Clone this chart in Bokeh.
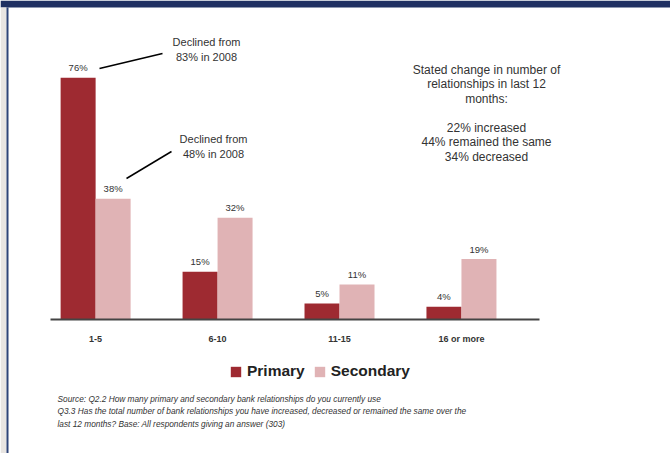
from bokeh.plotting import figure
from bokeh.models import ColumnDataSource, Label, Legend, LegendItem, BoxAnnotation
from bokeh.core.properties import value
from bokeh.embed import file_html
from bokeh.resources import INLINE

# ---- data ----
categories = ["1-5", "6-10", "11-15", "16 or more"]
primary = [76, 15, 5, 4]
secondary = [38, 32, 11, 19]
primary_labels = ["76%", "15%", "5%", "4%"]
secondary_labels = ["38%", "32%", "11%", "19%"]
series_names = ["Primary", "Secondary"]
note_83 = ["Declined from", "83% in 2008"]
note_48 = ["Declined from", "48% in 2008"]
side_text = ["Stated change in number of", "relationships in last 12", "months:", "",
             "22% increased", "44% remained the same", "34% decreased"]
footnote = [
    "Source: Q2.2 How many primary and secondary bank relationships do you currently use",
    "Q3.3 Has the total number of bank relationships you have increased, decreased or remained the same over the",
    "last 12 months? Base: All respondents giving an answer (303)",
]

# ---- style / layout ----
W, H = 670, 453
AX_L, AX_R, BASE = 50, 539, 319          # axis line extent and baseline (px)
CAT_XS, CAT_XE = -0.37, 3.64             # category units spanned by the axis line
PXU = (AX_R - AX_L) / (CAT_XE - CAT_XS)  # px per category unit
PX_PER_PCT = 3.18
XS = CAT_XS - AX_L / PXU
XE = CAT_XE + (W - AX_R) / PXU
YS = -(H - BASE) / PX_PER_PCT
YE = BASE / PX_PER_PCT
BW = 0.287
C_PRI = "#9E2A31"
C_SEC = "#E0B3B5"
TXT = "#333333"
FONT = "Liberation Sans Narrow, Liberation Sans, Arial, sans-serif"

def dx(px):
    return XS + px / PXU

def dy(py):
    return (BASE - py) / PX_PER_PCT

idx = list(range(len(categories)))
src = ColumnDataSource(dict(
    xp=[i - BW / 2 for i in idx], xs=[i + BW / 2 for i in idx], xc=idx,
    zero=[0] * len(idx), cat=categories,
    pri=primary, sec=secondary, pl=primary_labels, sl=secondary_labels))

p = figure(width=W, height=H, output_backend="svg", toolbar_location=None,
           x_range=(XS, XE), y_range=(YS, YE),
           x_axis_location=None, y_axis_location=None,
           min_border=0)
p.grid.visible = False
p.outline_line_color = None
p.background_fill_color = "white"
p.border_fill_color = "white"

r1 = p.vbar(x="xp", top="pri", width=BW, source=src, color=C_PRI, line_color=None)
r2 = p.vbar(x="xs", top="sec", width=BW, source=src, color=C_SEC, line_color=None)

for col_x, col_t, col_l in (("xp", "pri", "pl"), ("xs", "sec", "sl")):
    p.text(x=col_x, y=col_t, text=col_l, source=src, text_align="center",
           text_baseline="middle", y_offset=-10, text_font_size="9.5px",
           text_color=TXT, text_font=value(FONT))

# category axis
p.segment(x0=[CAT_XS], y0=[0], x1=[CAT_XE], y1=[0], line_color="#444444", line_width=2)
p.text(x="xc", y="zero", text="cat", source=src, text_align="center",
       text_baseline="middle", y_offset=19, text_font_size="9px",
       text_font_style="bold", text_color=TXT, text_font=value(FONT))

# annotation lines
p.segment(x0=[dx(99), dx(126)], y0=[dy(68), dy(178)], x1=[dx(162), dx(171)],
          y1=[dy(53), dy(151)], line_color="black", line_width=1.5)

def add_lines(lines, cx, y0, step, size, style="normal", align="center"):
    for k, t in enumerate(lines):
        if not t:
            continue
        p.add_layout(Label(x=dx(cx), y=dy(y0 + k * step), text=t, text_align=align,
                           text_baseline="middle", text_font_size=size,
                           text_font_style=style, text_color=TXT, text_font=FONT))

add_lines(note_83, 206, 41, 15, "11px")
add_lines(note_48, 213, 138, 15, "11px")
add_lines(side_text, 486, 69, 14.5, "12px")
add_lines(footnote, 57, 398, 12.5, "8.3px", style="italic", align="left")

legend = Legend(items=[LegendItem(label=series_names[0], renderers=[r1]),
                       LegendItem(label=series_names[1], renderers=[r2])],
                orientation="horizontal", location=(229, H - 380),
                label_text_font_size="15.5px", label_text_font_style="bold",
                label_text_color="#222222", label_text_font=FONT,
                glyph_width=13, glyph_height=13, label_standoff=5, spacing=8,
                background_fill_alpha=0, border_line_color=None, padding=0, margin=0)
p.add_layout(legend, "center")

# page frame decorations
p.add_layout(BoxAnnotation(left=dx(0), right=dx(W), top=dy(0), bottom=dy(7),
                           fill_color="#1F3062", fill_alpha=1, line_color=None))
p.add_layout(BoxAnnotation(left=dx(0), right=dx(6), top=dy(7), bottom=dy(H),
                           fill_color="#E8E5E2", fill_alpha=1, line_color=None))
p.add_layout(BoxAnnotation(left=dx(6), right=dx(8), top=dy(7), bottom=dy(H),
                           fill_color="#2E4478", fill_alpha=1, line_color=None))

open("out.html", "w").write(file_html(p, INLINE))
